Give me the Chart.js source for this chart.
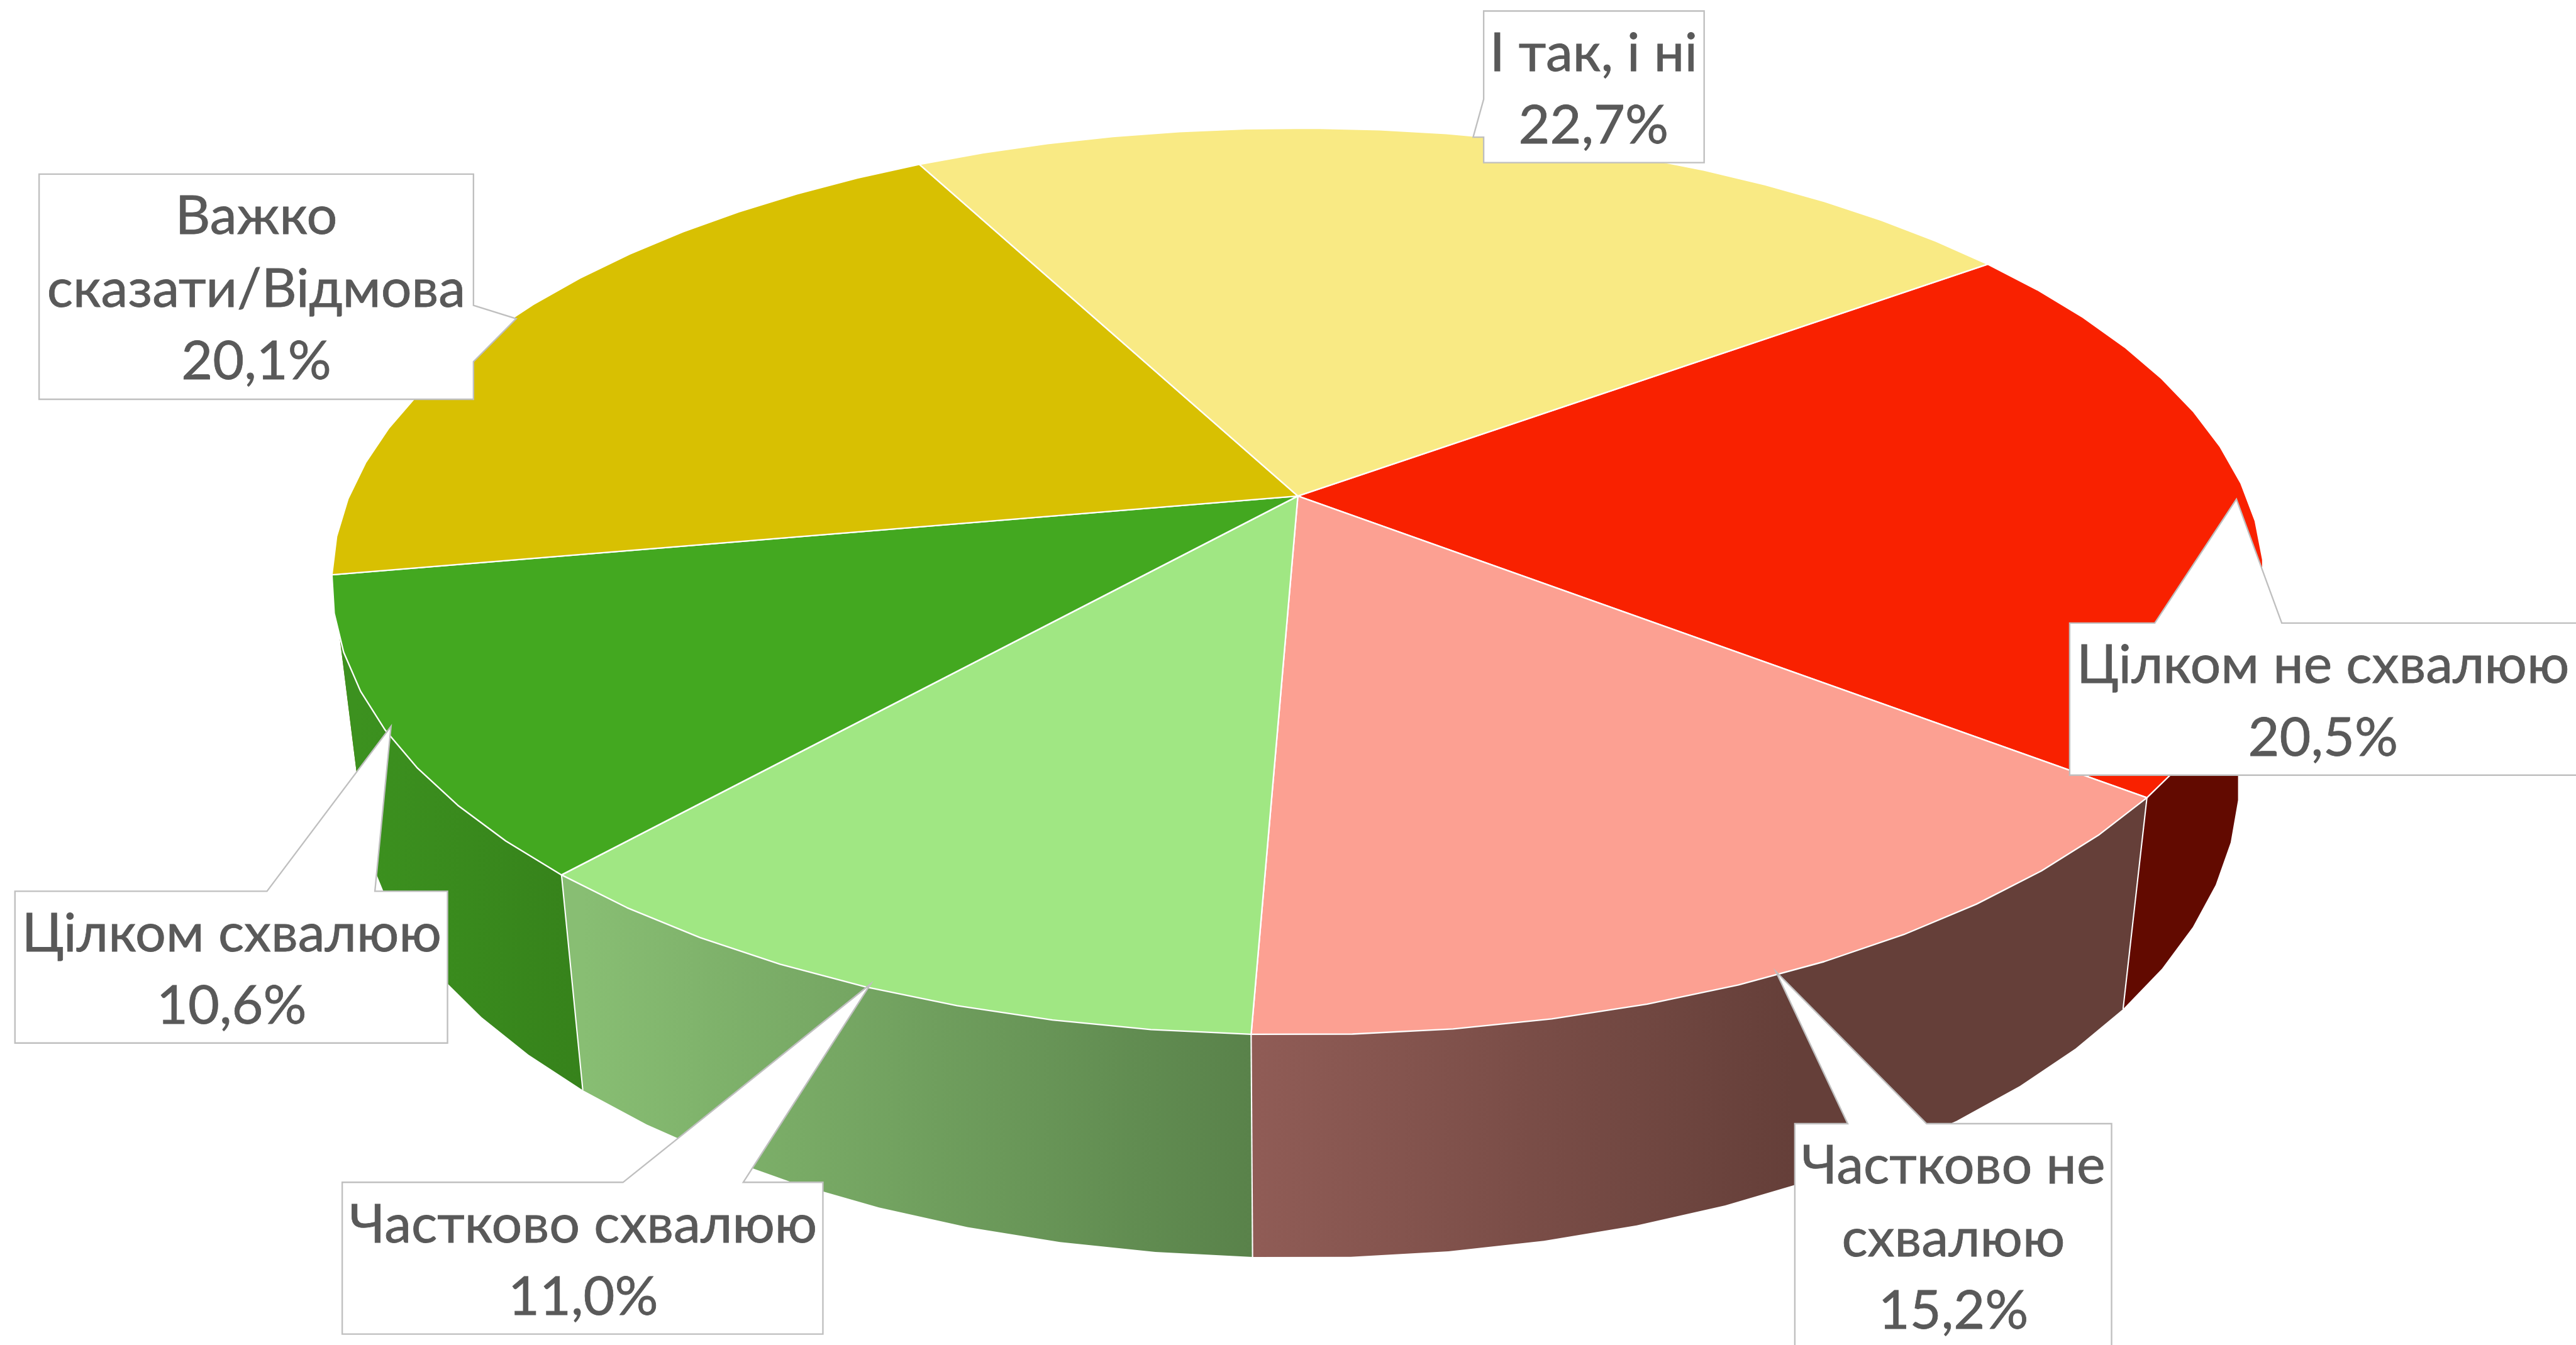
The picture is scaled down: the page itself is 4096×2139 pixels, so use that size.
<!DOCTYPE html>
<html><head><meta charset="utf-8">
<style>html,body{margin:0;padding:0;background:#fff;overflow:hidden}canvas{display:block}</style>
<script src="https://cdn.jsdelivr.net/npm/chart.js@4"></script>
</head><body><canvas id="c" width="4096" height="2139"></canvas>
<script>
const categories = ['Цілком не схвалюю','Частково не схвалюю','Частково схвалюю','Цілком схвалюю','Важко сказати/Відмова','І так, і ні'];
const values = [20.5,15.2,11.0,10.6,20.1,22.7];
const topColors = ['#f92100','#fca092','#a0e783','#43a820','#d8c002','#f9ea84'];
const wallStops = [
  [[0,'#620a00'],[1,'#620a00']],
  [[0,'#905c56'],[0.62,'#653f39'],[1,'#653f39']],
  [[0,'#88be73'],[1,'#59824a']],
  [[0,'#3c911f'],[1,'#36821b']],
  [[0,'#6c6000'],[1,'#6c6000']],
  [[0,'#7c7542'],[1,'#7c7542']]
];
const wallOrder = [5,4,0,3,1,2];
// Callout layout, in units of a 1568-wide frame: outline points, text centre, first baseline, words on first line
const callouts = [
  {pts:[[1259.8,379.3],[1311.6,379.3],[1361.3,303.9],[1388.9,379.3],[1572,379.3],[1572,471.9],[1259.8,471.9]],cx:1414,top:379.3,wrap:0},
  {pts:[[1092.5,684.1],[1124.7,684.1],[1081,591.5],[1172.7,684.1],[1285.3,684.1],[1285.3,825],[1092.5,825]],cx:1189,top:684.1,wrap:2},
  {pts:[[208.3,719.8],[379.2,719.8],[530,599],[452.4,719.8],[500.9,719.8],[500.9,812.2],[208.3,812.2]],cx:355,top:719.8,wrap:0},
  {pts:[[9.1,542.6],[162.5,542.6],[238,442.2],[228.2,542.6],[272.4,542.6],[272.4,635],[9.1,635]],cx:141,top:542.6,wrap:0},
  {pts:[[23.8,106],[288.2,106],[288.2,185.9],[314.2,194],[288.2,220.2],[288.2,243.1],[23.8,243.1]],cx:156,top:106,wrap:1},
  {pts:[[903.1,6.7],[1037.3,6.7],[1037.3,99],[903.1,99],[903.1,83.5],[896.7,83.5],[903.1,60.4]],cx:970,top:6.7,wrap:0}
];
const FRAME = 1568;
const VIEW = {cx:790,cy:302,a:577.5,b:266.2,k:0.1884,dropY:121.9,dropW:0.0256};
const STEP = 4.8*Math.PI/180;
const FONT_SIZE = 33, LINE = 44.2, FIRST = 36.5;

function project(angle, h){
  const u=Math.cos(angle), v=Math.sin(angle), w=1-VIEW.k*v+VIEW.dropW*h;
  return [VIEW.cx+VIEW.a*u/w, VIEW.cy+(VIEW.b*v+VIEW.dropY*h)/w];
}
function rim(a0,a1,h){
  const n=Math.max(1,Math.round((a1-a0)/STEP)), out=[];
  for(let i=0;i<=n;i++) out.push(project(a0+(a1-a0)*i/n,h));
  return out;
}
function trace(ctx,pts){
  ctx.beginPath();
  pts.forEach((p,i)=> i?ctx.lineTo(p[0],p[1]):ctx.moveTo(p[0],p[1]));
  ctx.closePath();
}
const tiltedPie = {
  id:'tiltedPie',
  beforeDatasetsDraw(chart){
    const ctx=chart.ctx, arcs=chart.getDatasetMeta(0).data, s=chart.width/FRAME;
    ctx.save(); ctx.scale(s,s); ctx.lineJoin='round';
    wallOrder.forEach(i=>{
      const el=arcs[i];
      const top=rim(el.startAngle,el.endAngle,0), bot=rim(el.startAngle,el.endAngle,1);
      const all=top.concat(bot.slice().reverse());
      const front=bot.map(p=>p[0]);
      const g=ctx.createLinearGradient(Math.min(...front),0,Math.max(...front),0);
      wallStops[i].forEach(st=>g.addColorStop(st[0],st[1]));
      trace(ctx,all); ctx.fillStyle=g; ctx.fill();
    });
    // white seams between the walls that face the viewer
    arcs.forEach(el=>{
      if(Math.sin(el.startAngle)>0.3){
        const a=project(el.startAngle,0), b=project(el.startAngle,1);
        ctx.beginPath(); ctx.moveTo(a[0],a[1]); ctx.lineTo(b[0],b[1]);
        ctx.strokeStyle='#fff'; ctx.lineWidth=0.8; ctx.stroke();
      }
    });
    arcs.forEach(el=>{
      const pts=[[VIEW.cx,VIEW.cy]].concat(rim(el.startAngle,el.endAngle,0));
      trace(ctx,pts); ctx.fillStyle=el.options.backgroundColor; ctx.fill();
      ctx.strokeStyle='#fff'; ctx.lineWidth=0.9; ctx.stroke();
    });
    ctx.restore();
    return false;
  },
  afterDraw(chart){
    const ctx=chart.ctx, s=chart.width/FRAME;
    ctx.save(); ctx.scale(s,s); ctx.lineJoin='miter';
    callouts.forEach((c,i)=>{
      trace(ctx,c.pts); ctx.fillStyle='#fff'; ctx.fill();
      ctx.strokeStyle='#bfbfbf'; ctx.lineWidth=0.9; ctx.stroke();
      const words=categories[i].split(' ');
      const lines=c.wrap?[words.slice(0,c.wrap).join(' '),words.slice(c.wrap).join(' ')]:[categories[i]];
      lines.push(values[i].toFixed(1).replace('.',',')+'%');
      ctx.fillStyle='#595959'; ctx.strokeStyle='#595959'; ctx.lineWidth=0.3;
      ctx.textAlign='center'; ctx.textBaseline='alphabetic';
      ctx.font=FONT_SIZE+'px Lato, "Open Sans", sans-serif';
      lines.forEach((t,j)=>{
        const y=c.top+FIRST+j*LINE;
        ctx.fillText(t,c.cx,y);
        ctx.strokeText(t,c.cx,y);
      });
    });
    ctx.restore();
  }
};
new Chart(document.getElementById('c'),{
  type:'pie',
  data:{labels:categories,datasets:[{data:values,backgroundColor:topColors,borderColor:'#fff',borderWidth:1}]},
  options:{responsive:false,animation:false,rotation:53.9,devicePixelRatio:1,
    plugins:{legend:{display:false},tooltip:{enabled:false}}},
  plugins:[tiltedPie]
});
</script></body></html>
